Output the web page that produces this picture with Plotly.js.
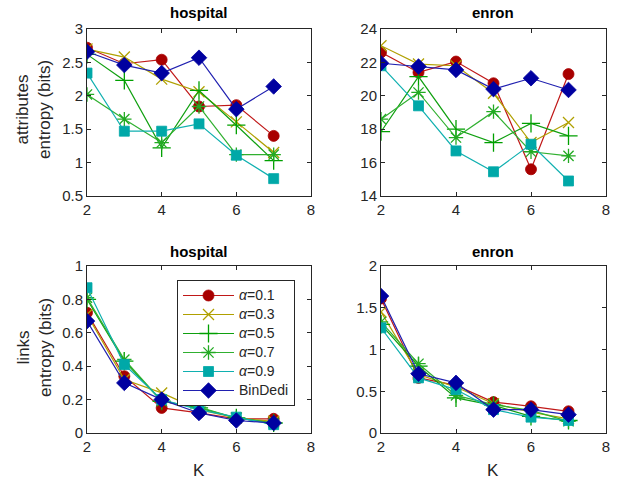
<!DOCTYPE html>
<html><head><meta charset="utf-8">
<script src="https://cdn.plot.ly/plotly-3.0.1.min.js"></script>
<style>html,body{margin:0;padding:0;background:#fff}#plot{width:621px;height:485px}</style>
</head><body><div id="plot"></div>
<script>
const K = [2, 3, 4, 5, 6, 7];
const seriesNames = ['<i>α</i>=0.1', '<i>α</i>=0.3', '<i>α</i>=0.5', '<i>α</i>=0.7', '<i>α</i>=0.9', 'BinDedi'];

// hospital – attributes entropy
const hospAttr01 = [2.72, 2.48, 2.54, 1.84, 1.86, 1.40];
const hospAttr03 = [2.70, 2.58, 2.25, 2.06, 1.61, 1.15];
const hospAttr05 = [2.62, 2.23, 1.22, 2.08, 1.56, 1.03];
const hospAttr07 = [2.02, 1.65, 1.30, 1.84, 1.12, 1.12];
const hospAttr09 = [2.34, 1.47, 1.47, 1.58, 1.11, 0.76];
const hospAttrBD = [2.66, 2.46, 2.34, 2.57, 1.80, 2.14];

// enron – attributes entropy
const enAttr01 = [22.6, 21.4, 22.05, 20.75, 15.6, 21.3];
const enAttr03 = [23.0, 21.9, 21.8, 20.15, 17.2, 18.4];
const enAttr05 = [17.85, 21.15, 18.0, 17.2, 18.35, 17.6];
const enAttr07 = [18.6, 20.2, 17.5, 19.05, 16.65, 16.4];
const enAttr09 = [21.8, 19.4, 16.7, 15.45, 17.1, 14.9];
const enAttrBD = [21.95, 21.75, 21.55, 20.4, 21.05, 20.35];

// hospital – links entropy
const hospLink01 = [0.72, 0.34, 0.15, 0.12, 0.085, 0.085];
const hospLink03 = [0.71, 0.32, 0.24, 0.14, 0.09, 0.07];
const hospLink05 = [0.80, 0.43, 0.19, 0.15, 0.09, 0.06];
const hospLink07 = [0.81, 0.44, 0.19, 0.155, 0.09, 0.06];
const hospLink09 = [0.87, 0.41, 0.20, 0.14, 0.095, 0.05];
const hospLinkBD = [0.67, 0.30, 0.20, 0.12, 0.075, 0.06];

// enron – links entropy
const enLink01 = [1.61, 0.66, 0.57, 0.37, 0.32, 0.26];
const enLink03 = [1.45, 0.70, 0.55, 0.35, 0.25, 0.17];
const enLink05 = [1.30, 0.80, 0.42, 0.33, 0.20, 0.15];
const enLink07 = [1.33, 0.83, 0.45, 0.34, 0.27, 0.14];
const enLink09 = [1.26, 0.66, 0.52, 0.28, 0.19, 0.15];
const enLinkBD = [1.64, 0.71, 0.60, 0.28, 0.28, 0.22];

const colors = ['#a80000', '#b0a000', '#00a000', '#22aa22', '#00a8a8', '#0000a0'];
const lineColors = ['#c01818', '#b0a000', '#10a010', '#30b030', '#10b0b0', '#2020b0'];
const symbols = ['circle', 'x-thin-open', 'cross-thin-open', 'asterisk-open', 'square', 'diamond'];
const sizes = [11, 11, 13, 12, 10, 12];

const panels = [
  {x: 'x', y: 'y', data: [hospAttr01, hospAttr03, hospAttr05, hospAttr07, hospAttr09, hospAttrBD], legend: false},
  {x: 'x2', y: 'y2', data: [enAttr01, enAttr03, enAttr05, enAttr07, enAttr09, enAttrBD], legend: false},
  {x: 'x3', y: 'y3', data: [hospLink01, hospLink03, hospLink05, hospLink07, hospLink09, hospLinkBD], legend: true},
  {x: 'x4', y: 'y4', data: [enLink01, enLink03, enLink05, enLink07, enLink09, enLinkBD], legend: false}
];

const traces = [];
panels.forEach(p => {
  p.data.forEach((vals, i) => {
    traces.push({
      x: K, y: vals, xaxis: p.x, yaxis: p.y, type: 'scatter', mode: 'lines+markers',
      name: '<span style="font-size:14px">' + seriesNames[i] + '</span>', showlegend: p.legend,
      line: {color: lineColors[i], width: 1.2},
      marker: {symbol: symbols[i], size: sizes[i], color: colors[i],
               line: {color: colors[i], width: (i === 1 || i === 2 || i === 3) ? 1.3 : 0.8}}
    });
  });
});

const font = {family: 'Liberation Sans, Arial, sans-serif', size: 15, color: '#262626'};
function ax(domain, range, dtick, anchor) {
  return {domain: domain, range: range, dtick: dtick, tick0: range[0], anchor: anchor,
          showgrid: false, zeroline: false, showline: true, mirror: 'ticks',
          linecolor: '#262626', linewidth: 1, ticks: 'inside', ticklen: 4, tickcolor: '#262626',
          tickfont: {family: font.family, size: 15, color: '#262626'}, fixedrange: true};
}
const xL = [87/621, 311/621], xR = [381/621, 606/621];
const yT = [1 - 196/485, 1 - 29/485], yB = [1 - 433/485, 1 - 266/485];

const ann = [];
function title(text, xc, ypx) {
  ann.push({text: '<b>' + text + '</b>', x: xc / 621, y: 1 - ypx / 485, xref: 'paper', yref: 'paper',
            showarrow: false, font: {family: font.family, size: 15, color: '#000'}, xanchor: 'center', yanchor: 'middle'});
}
title('hospital', 199, 12);
title('enron', 493, 12);
title('hospital', 199, 251);
title('enron', 493, 251);
function ylab(text, xc, yc) {
  ann.push({text: text, x: xc / 621, y: 1 - yc / 485, xref: 'paper', yref: 'paper', textangle: -90,
            showarrow: false, font: {family: font.family, size: 17, color: '#262626'}, xanchor: 'center', yanchor: 'middle'});
}
ylab('attributes<br>entropy (bits)', 34, 110);
ylab('links<br>entropy (bits)', 34, 348);
function xlab(text, xc, yc) {
  ann.push({text: text, x: xc / 621, y: 1 - yc / 485, xref: 'paper', yref: 'paper',
            showarrow: false, font: {family: font.family, size: 17, color: '#262626'}, xanchor: 'center', yanchor: 'middle'});
}
xlab('K', 199, 470);
xlab('K', 493, 470);

const layout = {
  width: 621, height: 485, margin: {l: 0, r: 0, t: 0, b: 0},
  paper_bgcolor: '#fff', plot_bgcolor: '#fff', font: font,
  xaxis: ax(xL, [2, 8], 2, 'y'), yaxis: ax(yT, [0.5, 3], 0.5, 'x'),
  xaxis2: ax(xR, [2, 8], 2, 'y2'), yaxis2: ax(yT, [14, 24], 2, 'x2'),
  xaxis3: ax(xL, [2, 8], 2, 'y3'), yaxis3: ax(yB, [0, 1], 0.2, 'x3'),
  xaxis4: ax(xR, [2, 8], 2, 'y4'), yaxis4: ax(yB, [0, 2], 0.5, 'x4'),
  showlegend: true,
  legend: {x: 177/621, y: 1 - 280/485, xanchor: 'left', yanchor: 'top', bgcolor: '#fff',
           bordercolor: '#262626', borderwidth: 1, font: {family: font.family, size: 11, color: '#262626'},
           tracegroupgap: 0, itemwidth: 51},
  annotations: ann
};
Plotly.newPlot('plot', traces, layout, {staticPlot: true, displayModeBar: false});
</script></body></html>
